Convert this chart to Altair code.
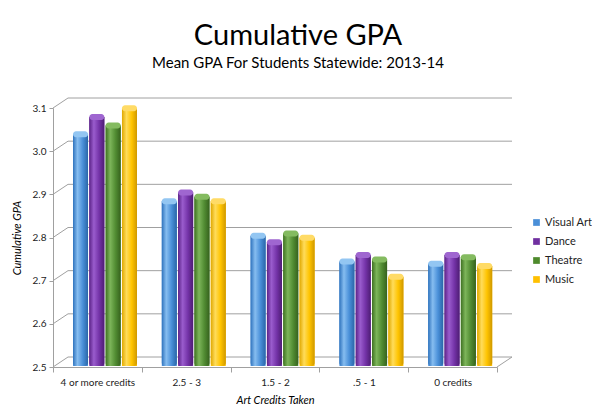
import altair as alt
import pandas as pd

categories = ["4 or more credits", "2.5 - 3", "1.5 - 2", ".5 - 1", "0 credits"]
series = ["Visual Art", "Dance", "Theatre", "Music"]

visual_art = [3.03, 2.875, 2.795, 2.735, 2.73]
dance = [3.07, 2.895, 2.78, 2.75, 2.75]
theatre = [3.05, 2.885, 2.80, 2.74, 2.745]
music = [3.09, 2.875, 2.79, 2.70, 2.725]

y_ticks = [2.5, 2.6, 2.7, 2.8, 2.9, 3.0, 3.1]

solid = ["#4a8fd8", "#7030a0", "#4e8a2c", "#ffc000"]
shades = {
    "Visual Art": ["#2f73bd", "#86bdf0", "#4a90d9", "#2a66a8"],
    "Dance": ["#5c2388", "#9a5ccd", "#7433a8", "#4e1d74"],
    "Theatre": ["#3f7222", "#7db55a", "#528d33", "#36621d"],
    "Music": ["#e0a800", "#ffdc5a", "#ffc400", "#cf9800"],
}
caps = {"Visual Art": "#93c6f2", "Dance": "#9f66d0", "Theatre": "#84bb60", "Music": "#ffdb66"}

values = {"Visual Art": visual_art, "Dance": dance, "Theatre": theatre, "Music": music}
df = pd.DataFrame(
    [
        {"category": c, "series": s, "gpa": v, "base": 2.5}
        for s in series
        for c, v in zip(categories, values[s])
    ]
)
grid = pd.DataFrame({"v": y_ticks})

W, H = 444, 259
DX, DY = 15, -10
GRID = "#a0a0a0"

y_scale = alt.Scale(domain=[2.5, 3.1], nice=False, zero=False)
x_enc = alt.X(
    "category:N",
    sort=categories,
    scale=alt.Scale(paddingInner=0, paddingOuter=0),
    axis=alt.Axis(
        labelAngle=0,
        tickBand="extent",
        tickSize=5,
        tickColor=GRID,
        domainColor=GRID,
        labelFontSize=10,
        labelColor="#222",
        labelPadding=5,
        title="Art Credits Taken",
        titleFontSize=11,
        titleFontStyle="italic",
        titleFontWeight="normal",
        titlePadding=7,
    ),
)
xoff_enc = alt.XOffset(
    "series:N",
    sort=series,
    scale=alt.Scale(domain=series, range=[20, 84], paddingInner=0.08, paddingOuter=0),
)
y_axis = alt.Axis(
    values=y_ticks,
    format=".1f",
    tickSize=4,
    tickColor=GRID,
    domainColor=GRID,
    labelFontSize=10,
    labelColor="#222",
    labelPadding=3,
    title="Cumulative GPA",
    titleFontSize=11,
    titleFontStyle="italic",
    titleFontWeight="normal",
    titlePadding=10,
)

# back wall grid and the slanted ticks joining it to the front axis
back_grid = alt.Chart(grid).mark_rule(color=GRID, strokeWidth=1, yOffset=DY).encode(
    y=alt.Y("v:Q", scale=y_scale, axis=y_axis),
    x=alt.value(DX),
    x2=alt.value(W + DX),
)
connectors = alt.Chart(grid).mark_rule(color=GRID, strokeWidth=1, y2Offset=DY).encode(
    y=alt.Y("v:Q", scale=y_scale),
    y2="v",
    x=alt.value(0),
    x2=alt.value(DX),
)
floor_edge = alt.Chart(grid).transform_filter("datum.v == 2.5").mark_rule(
    color=GRID, strokeWidth=1, y2Offset=DY
).encode(
    y=alt.Y("v:Q", scale=y_scale),
    y2="v",
    x=alt.value(W),
    x2=alt.value(W + DX),
)

base = alt.Chart(df).mark_bar(yOffset=-4, y2Offset=-1).encode(
    x=x_enc,
    xOffset=xoff_enc,
    y=alt.Y("gpa:Q", scale=y_scale),
    y2="base",
    color=alt.Color(
        "series:N",
        sort=series,
        scale=alt.Scale(domain=series, range=solid),
        legend=alt.Legend(
            title=None,
            orient="none",
            legendX=478,
            legendY=109,
            symbolType="square",
            symbolSize=45,
            symbolStrokeWidth=0,
            labelFontSize=11,
            labelColor="#222",
            labelOffset=3,
            rowPadding=7,
        ),
    ),
)

layers = [back_grid, connectors, floor_edge, base]
for s in series:
    stops = shades[s]
    grad = alt.Gradient(
        gradient="linear",
        x1=0, x2=1, y1=0, y2=0,
        stops=[
            alt.GradientStop(color=stops[0], offset=0),
            alt.GradientStop(color=stops[1], offset=0.3),
            alt.GradientStop(color=stops[2], offset=0.65),
            alt.GradientStop(color=stops[3], offset=1),
        ],
    )
    sub = alt.Chart(df).transform_filter(alt.datum.series == s)
    layers.append(
        sub.mark_bar(
            color=grad, yOffset=-4, y2Offset=-1,
            cornerRadiusBottomLeft=3, cornerRadiusBottomRight=3,
        ).encode(x=x_enc, xOffset=xoff_enc, y=alt.Y("gpa:Q", scale=y_scale), y2="base")
    )
    layers.append(
        sub.mark_bar(
            color=caps[s], yOffset=-7, y2Offset=-1, cornerRadius=3,
        ).encode(x=x_enc, xOffset=xoff_enc, y=alt.Y("gpa:Q", scale=y_scale), y2="gpa")
    )

chart = (
    alt.layer(*layers)
    .properties(
        width=W,
        height=H,
        autosize=alt.AutoSizeParams(type="none"),
        padding={"left": 45, "top": 100, "right": 95, "bottom": 45},
        title=alt.TitleParams(
            "Cumulative GPA",
            subtitle="Mean GPA For Students Statewide: 2013-14",
            font="Lato",
            fontSize=29,
            fontWeight="normal",
            color="#000",
            subtitleFont="Lato",
            subtitleFontSize=15,
            subtitleColor="#000",
            subtitlePadding=5,
            anchor="middle",
            frame="group",
            dx=23,
            offset=27,
        ),
    )
    .configure_view(stroke=None)
    .configure_axis(grid=False, labelFont="Lato", titleFont="Lato")
    .configure_legend(labelFont="Lato")
)

chart.save("out.html", embed_options={"renderer": "svg", "actions": False})
